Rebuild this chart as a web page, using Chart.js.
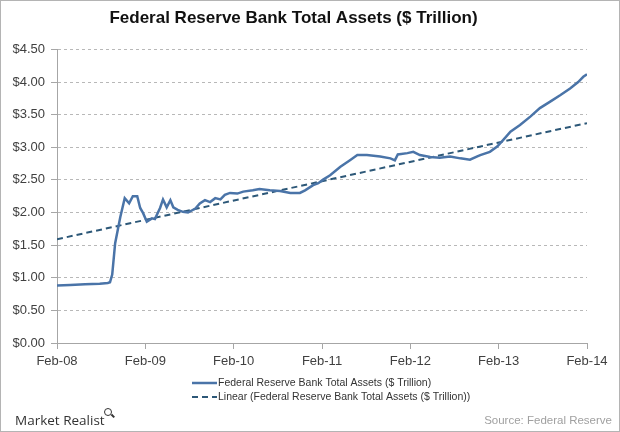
<!DOCTYPE html>
<html lang="en">
<head>
    <meta charset="UTF-8">
    <title>Federal Reserve Bank Total Assets</title>
    <script src="https://cdn.jsdelivr.net/npm/chart.js"></script>
    <style>
        body {
            margin: 0;
            padding: 0;
            background: #ffffff;
            font-family: 'Liberation Sans', Arial, sans-serif;
        }
        .wrap {
            position: relative;
            width: 620px;
            height: 432px;
            background: #ffffff;
        }
        .frame {
            position: absolute;
            left: 0; top: 0;
            width: 620px; height: 432px;
            box-sizing: border-box;
            border: 1px solid #b4b4b4;
            pointer-events: none;
        }
        .brand {
            position: absolute;
            left: 15px;
            top: 411px;
            font-family: 'Open Sans', sans-serif;
            font-size: 13.5px;
            color: #333333;
            line-height: 18px;
        }
        .brand .lens {
            position: absolute;
            left: 89px;
            top: -3px;
            width: 6px;
            height: 6px;
            border: 1.5px solid #333;
            border-radius: 50%;
        }
        .brand .lens::after {
            content: '';
            position: absolute;
            left: 6px;
            top: 6px;
            width: 4px;
            height: 1.5px;
            background: #333;
            transform: rotate(45deg);
        }
        .source {
            position: absolute;
            right: 8px;
            top: 413px;
            font-size: 11.5px;
            color: #a0a0a0;
            line-height: 14px;
        }
    </style>
</head>
<body>
    <div class="wrap">
        <canvas id="assetsChart" width="620" height="432"></canvas>
        <div class="brand">Market Realist<span class="lens"></span></div>
        <div class="source">Source: Federal Reserve</div>
        <div class="frame"></div>
    </div>

    <script>
        // months since Feb-08 and total assets in $ trillion
        const months = [0, 1.8, 3.8, 5.8, 6.9, 7.2, 7.5, 7.9, 8.6, 9.2, 9.8, 10.3, 10.9, 11.3, 11.7, 12.2,
            12.9, 13.3, 14.0, 14.4, 14.9, 15.4, 15.8, 16.4, 17.1, 17.8, 18.8, 19.4, 20.1, 20.8, 21.5,
            22.2, 22.8, 23.5, 24.5, 25.3, 26.6, 27.5, 28.9, 30.3, 31.7, 33.0, 33.7, 34.8, 35.5, 36.1,
            37.1, 38.5, 39.8, 40.8, 42.1, 43.9, 45.3, 45.9, 46.3, 47.6, 48.4, 49.3, 50.7, 52.0, 53.4,
            54.8, 56.1, 57.1, 57.5, 58.8, 59.8, 60.6, 61.6, 62.9, 64.3, 65.6, 67.0, 68.4, 69.7, 70.8,
            71.5, 72];
        const totalAssets = [0.88, 0.89, 0.90, 0.91, 0.92, 0.93, 1.05, 1.53, 1.93, 2.22, 2.14, 2.25, 2.25, 2.07, 1.99, 1.86,
            1.91, 1.90, 2.07, 2.20, 2.08, 2.19, 2.08, 2.04, 2.01, 2.00, 2.06, 2.14, 2.19, 2.16, 2.22,
            2.20, 2.27, 2.30, 2.29, 2.32, 2.34, 2.36, 2.34, 2.33, 2.30, 2.30, 2.34, 2.42, 2.45, 2.50,
            2.57, 2.70, 2.80, 2.88, 2.88, 2.86, 2.83, 2.80, 2.89, 2.91, 2.93, 2.88, 2.85, 2.84, 2.86,
            2.83, 2.81, 2.86, 2.88, 2.93, 3.01, 3.11, 3.24, 3.34, 3.47, 3.60, 3.70, 3.80, 3.90, 4.00,
            4.08, 4.12];

        // linear trend end points
        const trendMonths = [0, 72];
        const trendValues = [1.59, 3.37];

        const xTickLabels = ['Feb-08', 'Feb-09', 'Feb-10', 'Feb-11', 'Feb-12', 'Feb-13', 'Feb-14'];
        const yTickLabels = ['$0.00', '$0.50', '$1.00', '$1.50', '$2.00', '$2.50', '$3.00', '$3.50', '$4.00', '$4.50'];

        const seriesName = 'Federal Reserve Bank Total Assets ($ Trillion)';
        const textColor = '#404040';
        const axisColor = '#a6a6a6';

        // legend drawn as two stacked rows under the axis
        const stackedLegend = {
            id: 'stackedLegend',
            afterDraw(chart) {
                const ctx = chart.ctx;
                const x0 = 192, lineW = 25;
                ctx.save();
                ctx.font = '10.5px "Liberation Sans", Arial, sans-serif';
                ctx.textBaseline = 'middle';
                chart.data.datasets.forEach((ds, i) => {
                    const y = 383 + i * 14;
                    ctx.strokeStyle = ds.borderColor;
                    ctx.lineWidth = ds.borderWidth;
                    ctx.setLineDash(ds.borderDash || []);
                    ctx.beginPath();
                    ctx.moveTo(x0, y);
                    ctx.lineTo(x0 + lineW, y);
                    ctx.stroke();
                    ctx.setLineDash([]);
                    ctx.fillStyle = '#333333';
                    ctx.fillText(ds.label, x0 + lineW + 1, y);
                });
                ctx.restore();
            }
        };

        const ctx = document.getElementById('assetsChart').getContext('2d');

        new Chart(ctx, {
            type: 'line',
            data: {
                datasets: [{
                    label: seriesName,
                    data: months.map((m, i) => ({ x: m, y: totalAssets[i] })),
                    borderColor: '#4a74a8',
                    borderWidth: 2.5,
                    pointRadius: 0,
                    tension: 0
                }, {
                    label: 'Linear (' + seriesName + ')',
                    data: trendMonths.map((m, i) => ({ x: m, y: trendValues[i] })),
                    borderColor: '#2d5878',
                    borderWidth: 2,
                    borderDash: [6, 4],
                    pointRadius: 0,
                    tension: 0
                }]
            },
            options: {
                responsive: false,
                animation: false,
                layout: {
                    padding: { left: 0, right: 33, top: 0, bottom: 59 }
                },
                scales: {
                    x: {
                        type: 'linear',
                        min: 0,
                        max: 72,
                        afterFit: (scale) => { scale.height = 30; },
                        ticks: {
                            stepSize: 12,
                            color: textColor,
                            padding: 5,
                            maxRotation: 0,
                            font: { size: 13, family: "'Liberation Sans', Arial, sans-serif" },
                            callback: (value) => xTickLabels[value / 12]
                        },
                        grid: {
                            drawOnChartArea: false,
                            drawTicks: true,
                            tickLength: 6,
                            tickColor: axisColor
                        },
                        border: { color: axisColor, width: 1 }
                    },
                    y: {
                        min: 0,
                        max: 4.5,
                        afterFit: (scale) => { scale.width = 57; },
                        ticks: {
                            stepSize: 0.5,
                            color: textColor,
                            padding: 6,
                            font: { size: 13, family: "'Liberation Sans', Arial, sans-serif" },
                            callback: (value) => yTickLabels[Math.round(value / 0.5)]
                        },
                        grid: {
                            color: '#b8b8b8',
                            lineWidth: 1,
                            drawTicks: true,
                            tickLength: 6,
                            tickColor: axisColor,
                            tickBorderDash: []
                        },
                        border: { color: axisColor, width: 1, dash: [3, 3] }
                    }
                },
                plugins: {
                    legend: { display: false },
                    tooltip: { enabled: false },
                    title: {
                        display: true,
                        text: 'Federal Reserve Bank Total Assets ($ Trillion)',
                        color: '#111111',
                        font: { size: 17, weight: 'bold', family: "'Liberation Sans', Arial, sans-serif" },
                        padding: { top: 8, bottom: 21 }
                    }
                }
            },
            plugins: [stackedLegend]
        });
    </script>
</body>
</html>
